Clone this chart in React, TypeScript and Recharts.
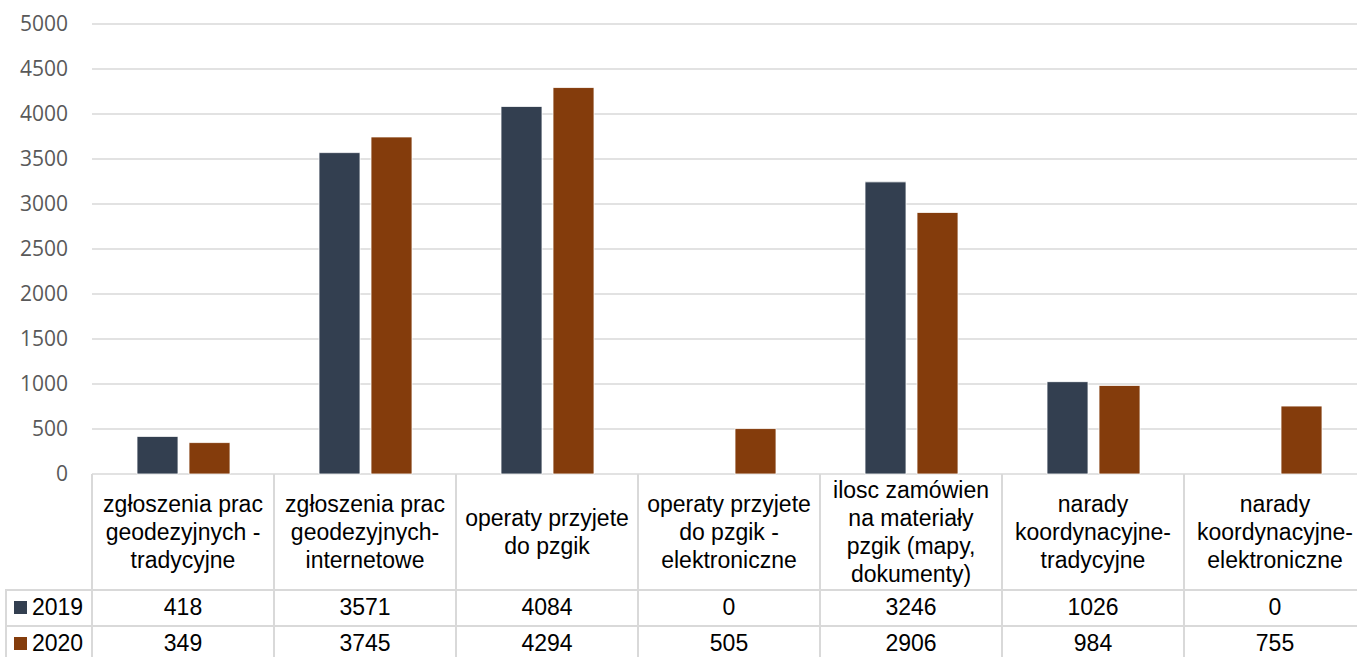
import React from 'react';
import { BarChart, Bar, YAxis, XAxis, CartesianGrid } from 'recharts';

const categories = [
  'zgłoszenia prac\ngeodezyjnych -\ntradycyjne',
  'zgłoszenia prac\ngeodezyjnych-\ninternetowe',
  'operaty przyjete\ndo pzgik',
  'operaty przyjete\ndo pzgik -\nelektroniczne',
  'ilosc zamówien\nna materiały\npzgik (mapy,\ndokumenty)',
  'narady\nkoordynacyjne-\ntradycyjne',
  'narady\nkoordynacyjne-\nelektroniczne',
];
const values2019 = [418, 3571, 4084, 0, 3246, 1026, 0];
const values2020 = [349, 3745, 4294, 505, 2906, 984, 755];
const yTicks = [0, 500, 1000, 1500, 2000, 2500, 3000, 3500, 4000, 4500, 5000];

const SERIES = [
  { key: 'y2019', name: '2019', color: '#333F50', values: values2019 },
  { key: 'y2020', name: '2020', color: '#843C0C', values: values2020 },
];

const data = categories.map((c, i) => ({
  category: c,
  y2019: values2019[i],
  y2020: values2020[i],
}));

const PLOT_LEFT = 92;
const COL_W = 182;
const TABLE_TOP = 474;
const HEADER_H = 116;
const ROW_H = 35.5;
const GRID = '#D9D9D9';
const TABLE_FONT = '"Liberation Sans", Arial, sans-serif';

const DataTable = () => {
  const line = (style: React.CSSProperties) => (
    <div style={{ position: 'absolute', background: GRID, ...style }} />
  );
  const bottom = TABLE_TOP + HEADER_H + ROW_H * 2 + 2;
  return (
    <div style={{ position: 'absolute', left: 0, top: 0, width: 1400, height: 700, fontFamily: TABLE_FONT, color: '#000' }}>
      {/* vertical lines */}
      {categories.map((_, i) => line({ left: PLOT_LEFT + i * COL_W - 1, top: TABLE_TOP, width: 2, height: bottom - TABLE_TOP }))}
      {line({ left: PLOT_LEFT + categories.length * COL_W - 1, top: TABLE_TOP, width: 2, height: bottom - TABLE_TOP })}
      {line({ left: 5, top: TABLE_TOP + HEADER_H, width: 2, height: ROW_H * 2 + 2 })}
      {/* horizontal lines */}
      {line({ left: 5, top: TABLE_TOP + HEADER_H - 1, width: PLOT_LEFT + categories.length * COL_W - 5, height: 2 })}
      {line({ left: 5, top: TABLE_TOP + HEADER_H + ROW_H - 1, width: PLOT_LEFT + categories.length * COL_W - 5, height: 2 })}
      {line({ left: 5, top: TABLE_TOP + HEADER_H + ROW_H * 2 - 1, width: PLOT_LEFT + categories.length * COL_W - 5, height: 2 })}

      {categories.map((c, i) => (
        <div
          key={'h' + i}
          style={{
            position: 'absolute',
            left: PLOT_LEFT + i * COL_W,
            top: TABLE_TOP,
            width: COL_W,
            height: HEADER_H,
            display: 'flex',
            alignItems: 'center',
            justifyContent: 'center',
            textAlign: 'center',
            whiteSpace: 'pre-line',
            fontSize: 23,
            lineHeight: '28px',
          }}
        >
          {c}
        </div>
      ))}

      {SERIES.map((s, r) => (
        <React.Fragment key={s.key}>
          <div
            style={{
              position: 'absolute',
              left: 6,
              top: TABLE_TOP + HEADER_H + r * ROW_H,
              width: PLOT_LEFT - 6,
              height: ROW_H,
              display: 'flex',
              alignItems: 'center',
              fontSize: 23,
            }}
          >
            <span style={{ display: 'inline-block', width: 13, height: 13, background: s.color, marginLeft: 8, marginRight: 5 }} />
            {s.name}
          </div>
          {s.values.map((v, i) => (
            <div
              key={s.key + i}
              style={{
                position: 'absolute',
                left: PLOT_LEFT + i * COL_W,
                top: TABLE_TOP + HEADER_H + r * ROW_H,
                width: COL_W,
                height: ROW_H,
                display: 'flex',
                alignItems: 'center',
                justifyContent: 'center',
                fontSize: 23,
              }}
            >
              {v}
            </div>
          ))}
        </React.Fragment>
      ))}
    </div>
  );
};

export default function App() {
  return (
    <div style={{ position: 'absolute', left: 0, top: 0, width: 1357, height: 657, overflow: 'hidden', background: '#fff' }}>
      <div style={{ position: 'absolute', left: 0, top: 0 }}>
        <BarChart
          width={PLOT_LEFT + categories.length * COL_W}
          height={500}
          data={data}
          margin={{ top: 24, right: 0, left: 0, bottom: 26 }}
          barCategoryGap={45}
          barGap={11}
        >
          <CartesianGrid vertical={false} stroke={GRID} strokeWidth={1.5} />
          <XAxis dataKey="category" hide />
          <YAxis
            width={PLOT_LEFT}
            domain={[0, 5000]}
            ticks={yTicks}
            axisLine={false}
            tickLine={false}
            tickSize={0}
            tickMargin={24}
            interval={0}
            tick={{ fill: '#595959', fontSize: 21, fontFamily: '"Open Sans", sans-serif' }}
          />
          {SERIES.map((s) => (
            <Bar key={s.key} dataKey={s.key} name={s.name} fill={s.color} stroke="#ffffff" strokeWidth={0.8} isAnimationActive={false} />
          ))}
        </BarChart>
      </div>
      <DataTable />
    </div>
  );
}
